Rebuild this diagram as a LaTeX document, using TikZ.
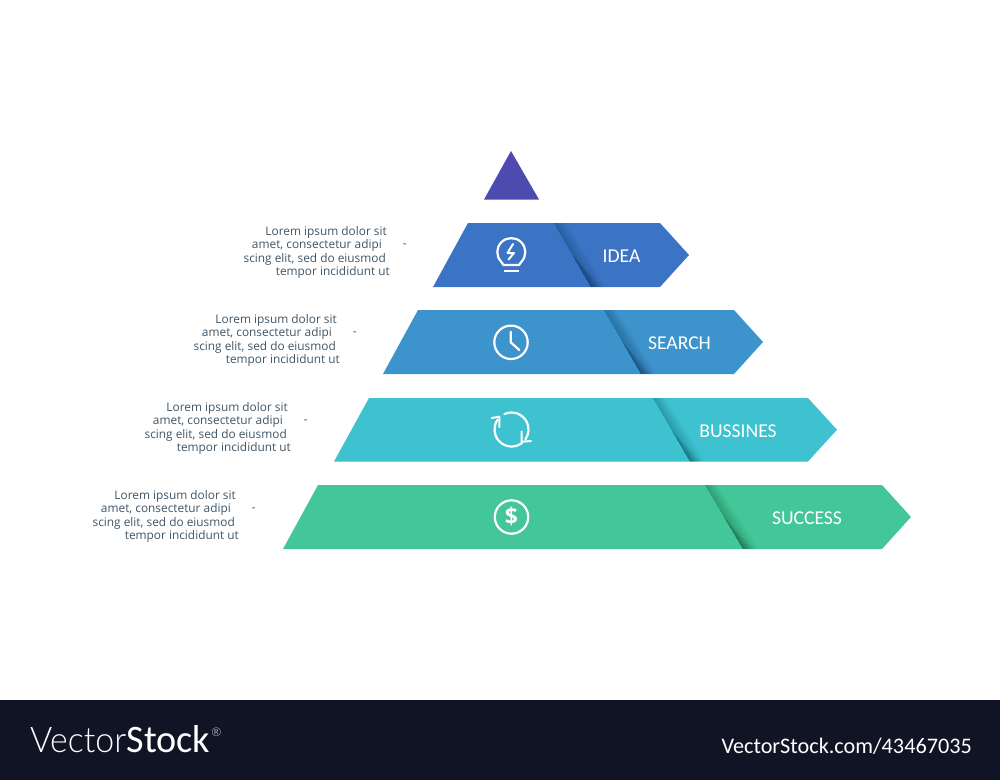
\documentclass[tikz,border=0pt]{standalone}
\usepackage{fontspec}
\usepackage{graphicx}
\setmainfont{Open Sans}
\newfontfamily\labelfont{Carlito}
\newfontfamily\logofont{Lato Light}
\definecolor{topviolet}{HTML}{4E4BB0}
\definecolor{ideablue}{HTML}{3B74C4}
\definecolor{searchblue}{HTML}{3D93CB}
\definecolor{bussinesteal}{HTML}{3EC2CF}
\definecolor{successgreen}{HTML}{43C699}
\definecolor{loremgrey}{HTML}{3F5566}
\definecolor{footerdark}{HTML}{111425}
\tikzset{
  loremtext/.style={anchor=east,inner sep=0pt,text=loremgrey,font=\fontsize{11.9}{13}\selectfont},
  bandtext/.style={inner sep=0pt,text=white,font=\labelfont\fontsize{19.7}{24}\selectfont},
  iconline/.style={draw=white,line width=2.2bp,line cap=round,line join=round},
}
% one band: bottom left x, top y, bottom y, right x, colour
\newcommand{\bandshape}[5]{%
  \fill [#5] (#1,#3) -- (#1+35,#2) -- (#4,#2) -- (#4+29,#2/2+#3/2) -- (#4,#3) -- cycle;
}
% soft shadow right of the fold: top x, bottom x, top y, bottom y
\newcommand{\foldshade}[4]{%
  \foreach \i in {1,...,20}
    \fill [black,opacity=0.009] (#1,#3) -- (#2,#4) -- (#2+\i*0.8,#4) -- (#1+\i*0.6,#3) -- cycle;
  \foreach \i in {1,...,16}
    \fill [black,opacity=0.011] (#1/2+#2/2,#3/2+#4/2) -- (#2,#4) -- (#2+\i*0.7,#4) -- cycle;
}
% text lines beside a band: right end of first line, first line centre, suffix
\newcommand{\loremblock}[3]{%
  \node [loremtext] (lorem_#3_1) at (#1,#2+1.5) {Lorem ipsum dolor sit};
  \node [loremtext] (lorem_#3_2) at (#1-5,#2+14.5) {amet, consectetur adipi};
  \node [loremtext] (lorem_#3_3) at (#1-1,#2+28.5) {scing elit, sed do eiusmod};
  \node [loremtext] (lorem_#3_4) at (#1+3,#2+41.5) {tempor incididunt ut};
  \node [loremtext] (dash_#3) at (#1+20,#2+14.5) {-};
}
\begin{document}
\begin{tikzpicture}[x=1bp,y=-1bp]
\useasboundingbox (0,0) rectangle (1000,780);
%%
\fill [topviolet] (511,151) -- (484,199.5) -- (539,199.5) -- cycle;
%
\bandshape{433}{223}{287}{660}{ideablue}
\foldshade{554}{591}{223}{287}
\bandshape{383}{310}{374}{734}{searchblue}
\foldshade{604}{641}{310}{374}
\bandshape{334}{398}{461.5}{808}{bussinesteal}
\foldshade{653}{690}{398}{461.5}
\bandshape{283}{485}{549}{882}{successgreen}
\foldshade{705}{743}{485}{549}
%
\node [bandtext] (label_idea) at (621.5,256) {IDEA};
\node [bandtext] (label_search) at (679.5,343.5) {SEARCH};
\node [bandtext] (label_bussines) at (738,431) {BUSSINES};
\node [bandtext] (label_success) at (807,518) {SUCCESS};
%
\loremblock{387}{231}{1}
\loremblock{337}{319}{2}
\loremblock{288}{407}{3}
\loremblock{236}{495}{4}
%% bulb
\draw [iconline] (503.5,265) -- (501.4,262) arc[start angle=135,end angle=405,radius=14] -- (519,265) -- cycle;
\draw [iconline,line width=1.8bp,line cap=butt] (504,271) -- (519,271);
\draw [iconline,line width=2bp] (513,244) -- (507.5,253) -- (514,253) -- (508.5,259.5);
%% clock
\draw [iconline] (511,342.3) circle [radius=16.7];
\draw [iconline] (510.7,331.7) -- (510.7,342.3) -- (519.3,350);
%% cycle
\draw [iconline] (511.5,429.5) ++(245:17) arc[start angle=245,end angle=395,radius=17];
\draw [iconline] (511.5,429.5) ++(50:17) arc[start angle=50,end angle=215,radius=17];
\draw [iconline,line width=2bp] (491.7,418) -- (499.3,416.7) -- (499.3,427);
\draw [iconline,line width=2bp] (531,441) -- (521.7,441.7) -- (521.7,431.7);
%% dollar
\draw [iconline] (511.5,517) circle [radius=16.7];
\node [inner sep=0pt,text=white,font=\bfseries\fontsize{23}{24}\selectfont] (icon_dollar) at (511.5,516.5) {\$};
%% footer
\fill [footerdark] (0,700) rectangle (1000,780);
\node [anchor=south west,inner sep=0pt,text=white] (logo_vector) at (30,753) {\resizebox{96bp}{25bp}{\logofont Vector}};
\node [anchor=south west,inner sep=0pt,text=white] (logo_stock) at (126.5,753) {\resizebox{83.5bp}{27bp}{\labelfont Stock}};
\node [anchor=center,inner sep=0pt,text=white] (logo_mark) at (216.5,732) {\logofont\fontsize{12}{13}\selectfont\textregistered};
\node [anchor=east,inner sep=0pt,text=white] (footer_url) at (972,746) {\labelfont\fontsize{22.3}{26}\selectfont VectorStock.com/43467035};
\end{tikzpicture}
\end{document}
